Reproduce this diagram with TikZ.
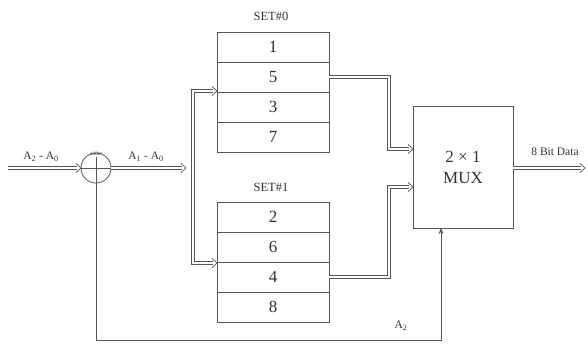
\documentclass[tikz,border=0pt]{standalone}
\usepackage{fontspec}
\setmainfont{Liberation Serif}
\usetikzlibrary{arrows.meta,calc}
\definecolor{ln}{HTML}{555555}
\definecolor{tx}{HTML}{333333}
\begin{document}
\begin{tikzpicture}[x=1pt,y=-1pt,
  every node/.style={text=tx},
  row/.style={draw=ln,line width=0.8pt,minimum width=112pt,minimum height=30pt,inner sep=0pt,outer sep=0pt,font=\fontsize{17}{17}\selectfont},
  dl/.style={draw=ln,line width=4.2pt,line join=miter,postaction={draw=white,line width=2.8pt,line join=miter}},
  tipst/.style={draw=ln,line width=0.7pt,line join=miter},
  wire/.style={draw=ln,line width=0.8pt},
  small/.style={font=\fontsize{11.5}{11.5}\selectfont,inner sep=1pt},
  setl/.style={font=\fontsize{12.5}{12.5}\selectfont,inner sep=1pt},
]
\newcommand{\dtip}[1]{\draw[tipst] ($(#1)+(-5,-4.6)$) -- (#1) -- ($(#1)+(-5,4.6)$);}
\useasboundingbox (0,0) rectangle (588,343);
\fill[white] (0,0) rectangle (588,343);
% SET#0
\node[row] (s0r1) at (273,47) {1};
\node[row] (s0r2) at (273,77) {5};
\node[row] (s0r3) at (273,107) {3};
\node[row] (s0r4) at (273,137) {7};
\node[setl] (set0) at (271,16) {SET\#0};
% SET#1
\node[row] (s1r1) at (273,217) {2};
\node[row] (s1r2) at (273,247) {6};
\node[row] (s1r3) at (273,277) {4};
\node[row] (s1r4) at (273,307) {8};
\node[setl] (set1) at (271,187) {SET\#1};
% MUX
\node[draw=ln,line width=0.8pt,outer sep=0pt,minimum width=100pt,minimum height=122pt,align=center,font=\fontsize{17}{21}\selectfont] (mux) at (463,167) {2 × 1\\MUX};
% adder circle
\node[draw=ln,line width=0.8pt,circle,minimum size=30pt,inner sep=0pt,outer sep=0pt] (add) at (96,168) {};
\draw[wire] (add.west) -- (add.east);
\draw[wire] ([yshift=-4pt]add.north) -- (add.south);
\node[font=\fontsize{5.5}{5.5}\selectfont,inner sep=0pt] (addl) at (96,154) {adder};
% input
\coordinate (in) at (8,168);
\draw[dl] (in) -- ($(add.west)+(-4,0)$);
\dtip{add.west}
\node[small] (lin) at (41,157) {A\textsubscript{2} - A\textsubscript{0}};
% to bus
\coordinate (bend) at (186,168);
\draw[dl] (add.east) -- ($(bend)+(-4,0)$);
\dtip{bend}
\node[small] (lout) at (146,157) {A\textsubscript{1} - A\textsubscript{0}};
\coordinate (bt) at (193,91);
\coordinate (bb) at (193,263);
\coordinate (e0) at (s0r2.south west);
\coordinate (e1) at (s1r3.north west);
\draw[dl] ($(e0|-bt)+(-4,0)$) -- (bt) -- (bb) -- ($(e1|-bb)+(-4,0)$);
\dtip{e0|-bt}
\dtip{e1|-bb}
% to mux
\coordinate (m1s) at (329,77);
\coordinate (m1a) at (389,77);
\coordinate (m1b) at (389,149);
\coordinate (m2s) at (329,277);
\coordinate (m2a) at (389,277);
\coordinate (m2b) at (389,187);
\coordinate (t1) at (413,149);
\coordinate (t2) at (413,187);
\draw[dl] (m1s) -- (m1a) -- (m1b) -- ($(t1)+(-4,0)$);
\dtip{t1}
\draw[dl] (m2s) -- (m2a) -- (m2b) -- ($(t2)+(-4,0)$);
\dtip{t2}
% output
\coordinate (os) at (513,168);
\coordinate (out) at (585,168);
\draw[dl] (os) -- ($(out)+(-4,0)$);
\dtip{out}
\node[small] (lo) at (555,152) {8 Bit Data};
% feedback
\coordinate (c1) at (96,340);
\coordinate (c2) at (441,340);
\draw[wire,-{Stealth[length=6pt,width=5pt]}] (add.south) -- (c1) -- (c2) -- (mux.south -| c2);
\node[small] (la2) at (401,326) {A\textsubscript{2}};
\end{tikzpicture}
\end{document}
